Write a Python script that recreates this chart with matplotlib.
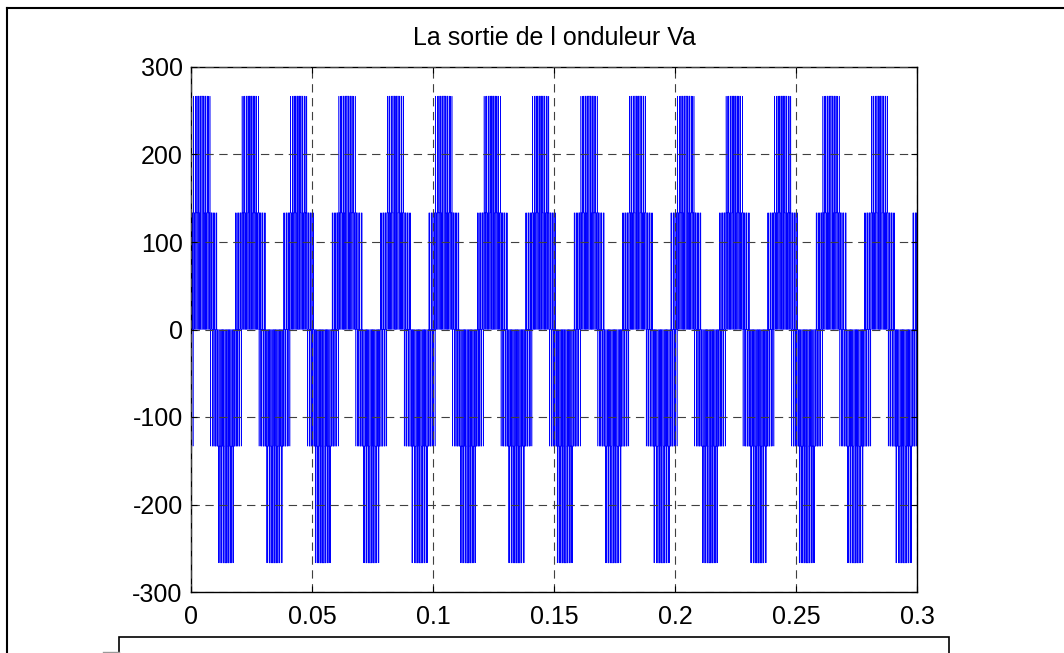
import numpy as np
import matplotlib
matplotlib.use("Agg")
import matplotlib.pyplot as plt
from matplotlib.lines import Line2D
from matplotlib.patches import Rectangle

plt.rcParams['font.family'] = ['Liberation Sans', 'DejaVu Sans']
plt.rcParams['axes.unicode_minus'] = False
plt.rcParams['lines.scale_dashes'] = False

# one fundamental period (20 ms) of the inverter phase voltage Va,
# switching instants in ms and the level held from that instant on (V)
period_ms = 20.0
n_periods = 15
switch_ms = [
    0.000, 0.099, 0.180, 0.470, 0.530, 0.820, 0.901,
    1.000, 1.118, 1.158, 1.474, 1.526, 1.842, 1.882,
    2.000, 2.068, 2.226, 2.456, 2.544, 2.774, 2.932,
    3.000, 3.036, 3.297, 3.417, 3.583, 3.703, 3.964,
    4.000, 4.025, 4.363, 4.638, 4.975,
    5.000, 5.036, 5.297, 5.417, 5.583, 5.703, 5.964,
    6.000, 6.068, 6.226, 6.456, 6.544, 6.774, 6.932,
    7.000, 7.118, 7.158, 7.474, 7.526, 7.842, 7.882,
    8.000, 8.099, 8.180, 8.470, 8.530, 8.820, 8.901,
    9.000, 9.055, 9.250, 9.445, 9.555, 9.750, 9.945,
    10.000, 10.030, 10.320, 10.401, 10.599, 10.680, 10.970,
    11.000, 11.026, 11.342, 11.382, 11.618, 11.658, 11.974,
    12.000, 12.044, 12.274, 12.432, 12.568, 12.727, 12.956,
    13.000, 13.083, 13.203, 13.464, 13.536, 13.797, 13.917,
    14.000, 14.138, 14.475, 14.525, 14.863,
    15.000, 15.083, 15.203, 15.464, 15.536, 15.797, 15.917,
    16.000, 16.044, 16.274, 16.432, 16.568, 16.727, 16.956,
    17.000, 17.026, 17.342, 17.382, 17.618, 17.658, 17.974,
    18.000, 18.030, 18.320, 18.401, 18.599, 18.680, 18.970,
    19.000, 19.055, 19.250, 19.445, 19.555, 19.750, 19.945,
]
level_v = [
    0, -133.3, 133.3, 0, 133.3, -133.3, 0,
    0, 266.7, 133.3, 0, 133.3, 266.7, 0,
    0, 266.7, 133.3, 0, 133.3, 266.7, 0,
    0, 266.7, 133.3, 0, 133.3, 266.7, 0,
    0, 266.7, 0, 266.7, 0,
    0, 266.7, 133.3, 0, 133.3, 266.7, 0,
    0, 266.7, 133.3, 0, 133.3, 266.7, 0,
    0, 266.7, 133.3, 0, 133.3, 266.7, 0,
    0, -133.3, 133.3, 0, 133.3, -133.3, 0,
    0, -133.3, 133.3, 0, 133.3, -133.3, 0,
    0, -133.3, 133.3, 0, 133.3, -133.3, 0,
    0, -133.3, -266.7, 0, -266.7, -133.3, 0,
    0, -133.3, -266.7, 0, -266.7, -133.3, 0,
    0, -133.3, -266.7, 0, -266.7, -133.3, 0,
    0, -266.7, 0, -266.7, 0,
    0, -133.3, -266.7, 0, -266.7, -133.3, 0,
    0, -133.3, -266.7, 0, -266.7, -133.3, 0,
    0, -133.3, -266.7, 0, -266.7, -133.3, 0,
    0, -133.3, 133.3, 0, 133.3, -133.3, 0,
    0, -133.3, 133.3, 0, 133.3, -133.3, 0,
]

x_ticks = [0, 0.05, 0.1, 0.15, 0.2, 0.25, 0.3]
x_labels = ['0', '0.05', '0.1', '0.15', '0.2', '0.25', '0.3']
y_ticks = [-300, -200, -100, 0, 100, 200, 300]
title = 'La sortie de l onduleur Va'

# repeat the period pattern over the whole record
t = np.concatenate([(np.array(switch_ms) + p * period_ms) / 1000.0 for p in range(n_periods)])
v = np.tile(np.array(level_v, dtype=float), n_periods)
t = np.append(t, n_periods * period_ms / 1000.0)
v = np.append(v, 133.3)

W, H = 1064, 653
fig = plt.figure(figsize=(W / 100, H / 100), dpi=100)
ax = fig.add_axes([191 / W, 1 - 592 / H, (917 - 191) / W, (592 - 67) / H])

ax.plot(t, v, drawstyle='steps-post', color='#0000FF', linewidth=0.4)

ax.set_xlim(0, 0.3)
ax.set_ylim(-300, 300)
ax.set_xticks(x_ticks)
ax.set_xticklabels(x_labels)
ax.set_yticks(y_ticks)
ax.set_yticklabels([str(y) for y in y_ticks])
ax.tick_params(direction='in', top=True, right=True, length=4, width=0.8,
               labelsize=18, colors='black')
ax.tick_params(axis='x', pad=9)
ax.tick_params(axis='y', pad=6)
ax.set_axisbelow(False)
ax.grid(True, color='#404040', linestyle=(0, (6, 4)), linewidth=0.8)
for s in ax.spines.values():
    s.set_linewidth(1.0)
    s.set_color('black')
ax.set_title(title, fontsize=18, pad=16)

# outer figure frame (top and left edges visible)
fig.add_artist(Line2D([7 / W, 7 / W], [0, 1 - 8 / H], transform=fig.transFigure,
                      color='black', linewidth=1.5))
fig.add_artist(Line2D([7 / W, 1], [1 - 8 / H, 1 - 8 / H], transform=fig.transFigure,
                      color='black', linewidth=1.5))

# box cut off at the bottom of the page
fig.add_artist(Rectangle((119 / W, -0.1), (949 - 119) / W, 0.1 + (H - 637) / H,
                         transform=fig.transFigure, facecolor='white',
                         edgecolor='black', linewidth=1.2))
fig.add_artist(Line2D([103 / W, 119 / W], [1 - 652 / H, 1 - 652 / H],
                      transform=fig.transFigure, color='#999999', linewidth=1.0))

fig.savefig('out.png', dpi=100)
